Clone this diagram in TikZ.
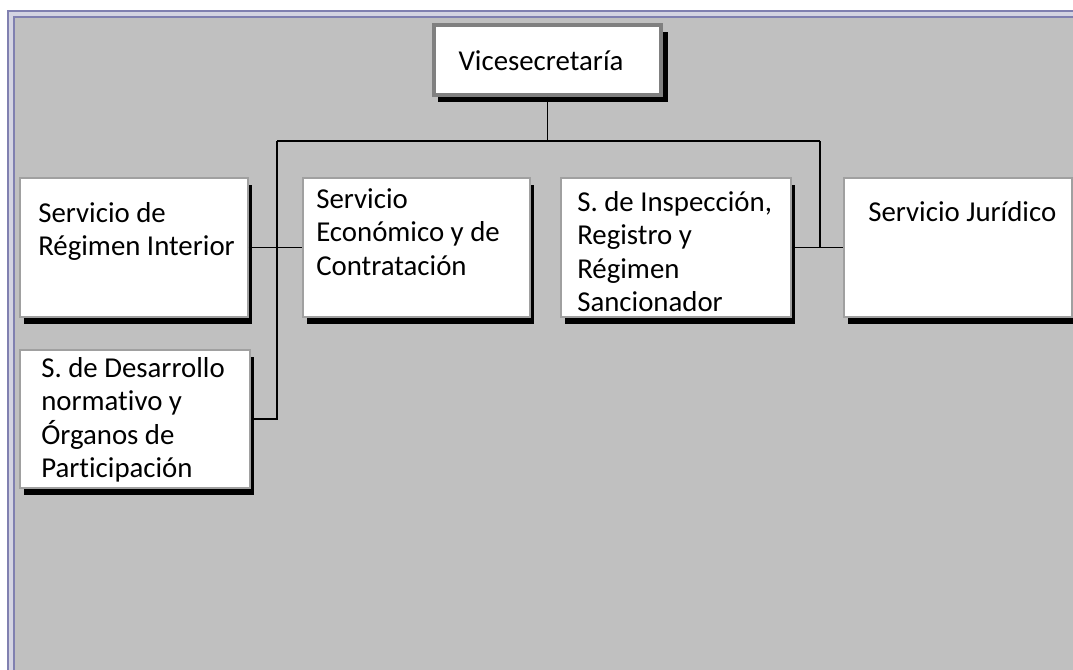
\documentclass[tikz,border=0pt]{standalone}
\usepackage{fontspec}
\setmainfont[Ligatures=NoCommon]{Carlito}
\usetikzlibrary{shadows}
\definecolor{panel}{RGB}{192,192,192}
\definecolor{rim}{RGB}{128,128,176}
\definecolor{rimfill}{RGB}{212,212,226}
\definecolor{edge}{RGB}{160,160,160}
\definecolor{topedge}{RGB}{128,128,128}
\begin{document}
\begin{tikzpicture}[x=0.025cm,y=-0.025cm]
        \tikzstyle{box}=[draw=edge, line width=0.9pt, fill=white, inner sep=0pt, minimum height=98.9pt,
          drop shadow={shadow xshift=2.9pt, shadow yshift=-5pt, fill=black, opacity=1}];
        \tikzstyle{txt}=[anchor=north west, align=left, inner sep=0pt, font=\fontsize{20.5}{23.8}\selectfont];
        \tikzstyle{conn}=[line width=1.35pt];
        \useasboundingbox (0,0) rectangle (1073,670);
        %background and frame
        \fill[white] (0,0) rectangle (1073,670);
        \fill[rimfill] (8,11) rectangle (1073,670);
        \fill[panel] (14,17) rectangle (1073,670);
        \draw[rim, line width=1pt] (8,670) -- (8,11) -- (1073,11);
        \draw[rim, line width=1pt] (14,670) -- (14,17) -- (1073,17);
        %boxes
        \node[box, draw=topedge, line width=2.8pt, minimum width=161.5pt, minimum height=49.8pt,
          drop shadow={shadow xshift=5pt, shadow yshift=-5pt, fill=black, opacity=1}] (vs) at (547.5,60) {};
        \node[box, minimum width=162.2pt] (ri) at (134,247.5) {};
        \node[box, minimum width=161.5pt] (ec) at (416.5,247.5) {};
        \node[box, minimum width=163.6pt] (in) at (676,247.5) {};
        \node[box, minimum width=162.2pt] (ju) at (958,247.5) {};
        \node[box, minimum width=163.6pt, minimum height=98.2pt] (de) at (135,419) {};
        %texts
        \node[txt, anchor=center] (tvs) at (541,61) {Vicesecretaría};
        \node[txt] (tri) at (38,198.6) {\strut Servicio de\\Régimen Interior};
        \node[txt] (tec) at (316,184.6) {\strut Servicio\\Económico y de\\Contratación};
        \node[txt] (tin) at (577,187.6) {\strut S. de Inspección,\\Registro y\\Régimen\\Sancionador};
        \node[txt] (tju) at (868,197.6) {\strut Servicio Jurídico};
        \node[txt] (tde) at (41,353.6) {\strut S. de Desarrollo\\normativo y\\Órganos de\\Participación};
        %connectors
        \coordinate (bl) at (277,141);
        \coordinate (br) at (820,141);
        \draw[conn] (vs.south) -- (vs.south |- bl);
        \draw[conn] (bl) -- (br);
        \draw[conn] (bl) |- (de.east);
        \draw[conn] (ri.east) -- (ec.west);
        \draw[conn] (br) |- (ju.west);
        \draw[conn] (in.east) -- (ju.west);
\end{tikzpicture}
\end{document}
